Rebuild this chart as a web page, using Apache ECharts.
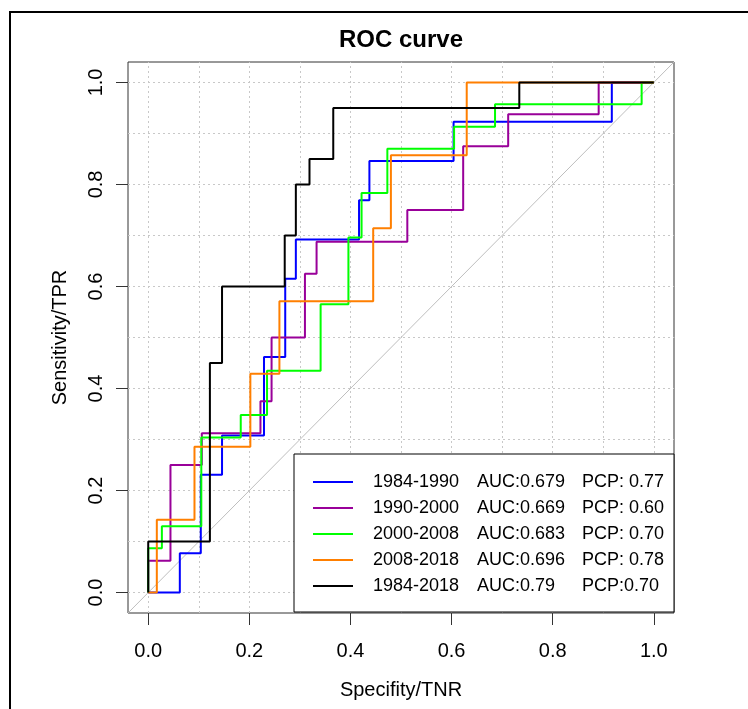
<!DOCTYPE html>
<html>
<head>
<meta charset="utf-8">
<title>ROC curve</title>
<script src="https://cdn.jsdelivr.net/npm/echarts@6/dist/echarts.min.js"></script>
<style>
  html, body { margin: 0; padding: 0; background: #fff; }
  #chart { width: 748px; height: 709px; }
</style>
</head>
<body>
<div id="chart"></div>
<script>
// legend text
const periods = ['1984-1990', '1990-2000', '2000-2008', '2008-2018', '1984-2018']
const aucLabels = ['AUC:0.679', 'AUC:0.669', 'AUC:0.683', 'AUC:0.696', 'AUC:0.79']
const pcpLabels = ['PCP: 0.77', 'PCP: 0.60', 'PCP: 0.70', 'PCP: 0.78', 'PCP:0.70']
const colors = ['#0000ff', '#990099', '#00ff00', '#ff7f00', '#000000']

// ROC step corners (x, y) per period
const fpr1 = [0, 0.0625, 0.104, 0.146, 0.229, 0.271, 0.292, 0.417, 0.4375, 0.604, 0.917, 1]
const tpr1 = [0, 0.077, 0.231, 0.308, 0.462, 0.615, 0.692, 0.769, 0.846, 0.923, 1, 1]

const fpr2 = [0, 0, 0.044, 0.106, 0.222, 0.244, 0.31, 0.333, 0.5125, 0.623, 0.712, 0.891, 1]
const tpr2 = [0, 0.0625, 0.25, 0.3125, 0.375, 0.5, 0.625, 0.6875, 0.75, 0.875, 0.9375, 1, 1]

const fpr3 = [0, 0, 0.027, 0.105, 0.183, 0.235, 0.341, 0.396, 0.422, 0.473, 0.605, 0.686, 0.976, 1]
const tpr3 = [0, 0.087, 0.13, 0.304, 0.348, 0.435, 0.565, 0.696, 0.783, 0.87, 0.913, 0.957, 1, 1]

const fpr4 = [0, 0.017, 0.0915, 0.202, 0.2595, 0.445, 0.48, 0.63, 1]
const tpr4 = [0, 0.143, 0.286, 0.429, 0.571, 0.714, 0.857, 1, 1]

const fpr5 = [0, 0, 0.122, 0.146, 0.27, 0.292, 0.319, 0.366, 0.734, 1]
const tpr5 = [0, 0.10, 0.45, 0.60, 0.70, 0.80, 0.85, 0.95, 1, 1]

const fprList = [fpr1, fpr2, fpr3, fpr4, fpr5]
const tprList = [tpr1, tpr2, tpr3, tpr4, tpr5]

// axis ticks and dotted grid
const tickVals = [0, 0.2, 0.4, 0.6, 0.8, 1.0]
const gridVals = [0, 0.1, 0.2, 0.3, 0.4, 0.5, 0.6, 0.7, 0.8, 0.9, 1.0]
const AXIS_MIN = -0.04
const AXIS_MAX = 1.04

const FONT = 'Liberation Sans, Arial, sans-serif'

const chart = echarts.init(document.getElementById('chart'))

const curveSeries = periods.map((p, i) => ({
  name: p,
  type: 'line',
  step: 'end',
  symbol: 'none',
  z: 3,
  silent: true,
  data: fprList[i].map((x, j) => [x, tprList[i][j]]),
  lineStyle: { color: colors[i], width: 2 },
  itemStyle: { color: colors[i] }
}))

const option = {
  backgroundColor: '#ffffff',
  animation: false,
  title: {
    text: 'ROC curve',
    left: 401,
    top: 28,
    padding: 0,
    textAlign: 'center',
    textStyle: { fontFamily: FONT, fontSize: 24, fontWeight: 'bold', color: '#000' }
  },
  grid: {
    left: 128,
    right: 74,
    top: 62,
    bottom: 96,
    show: true,
    borderColor: '#333',
    borderWidth: 1,
    backgroundColor: 'transparent'
  },
  xAxis: {
    type: 'value',
    min: AXIS_MIN,
    max: AXIS_MAX,
    position: 'bottom',
    name: 'Specifity/TNR',
    nameLocation: 'middle',
    nameGap: 67,
    nameTextStyle: { fontFamily: FONT, fontSize: 20, color: '#000' },
    axisLine: { show: false, onZero: false },
    axisTick: { show: true, inside: false, length: 12, customValues: tickVals, lineStyle: { color: '#333' } },
    axisLabel: {
      customValues: tickVals,
      formatter: v => v.toFixed(1),
      margin: 28,
      fontFamily: FONT,
      fontSize: 20,
      color: '#000'
    },
    splitLine: { show: false }
  },
  yAxis: {
    type: 'value',
    min: AXIS_MIN,
    max: AXIS_MAX,
    position: 'left',
    name: 'Sensitivity/TPR',
    nameLocation: 'middle',
    nameGap: 58,
    nameTextStyle: { fontFamily: FONT, fontSize: 20, color: '#000' },
    axisLine: { show: false, onZero: false },
    axisTick: { show: true, inside: false, length: 12, customValues: tickVals, lineStyle: { color: '#333' } },
    axisLabel: {
      customValues: tickVals,
      formatter: v => v.toFixed(1),
      rotate: 90,
      margin: 22,
      fontFamily: FONT,
      fontSize: 20,
      color: '#000'
    },
    splitLine: { show: false }
  },
  legend: {
    orient: 'vertical',
    left: 313,
    top: 472,
    padding: 0,
    itemGap: 6,
    itemWidth: 40,
    itemHeight: 2,
    z: 200,
    selectedMode: false,
    data: periods.map(p => ({ name: p, icon: 'rect' })),
    formatter: name => {
      const i = periods.indexOf(name)
      return `{s|}{a|${periods[i]}}{b|${aucLabels[i]}}{c|${pcpLabels[i]}}`
    },
    textStyle: {
      fontFamily: FONT,
      fontSize: 18,
      color: '#000',
      lineHeight: 20,
      rich: {
        s: { width: 15 },
        a: { width: 104, fontFamily: FONT, fontSize: 18, color: '#000' },
        b: { width: 105, fontFamily: FONT, fontSize: 18, color: '#000' },
        c: { fontFamily: FONT, fontSize: 18, color: '#000' }
      }
    }
  },
  graphic: [
    {
      // outer frame
      type: 'rect',
      z: 0,
      silent: true,
      shape: { x: 10, y: 12, width: 800, height: 800 },
      style: { fill: 'none', stroke: '#000', lineWidth: 2 }
    },
    {
      // legend box
      type: 'rect',
      z: 100,
      silent: true,
      shape: { x: 294, y: 454, width: 380, height: 158 },
      style: { fill: '#fff', stroke: '#000', lineWidth: 1 }
    }
  ],
  series: [
    {
      // dotted grid + diagonal reference
      name: 'ref',
      type: 'line',
      symbol: 'none',
      silent: true,
      z: 1,
      data: [[AXIS_MIN, AXIS_MIN], [AXIS_MAX, AXIS_MAX]],
      lineStyle: { color: '#bebebe', width: 1 },
      markLine: {
        silent: true,
        symbol: 'none',
        z: 1,
        label: { show: false },
        lineStyle: { color: '#c8c8c8', width: 1, type: [2, 3] },
        data: gridVals.map(v => ({ xAxis: v })).concat(gridVals.map(v => ({ yAxis: v })))
      }
    },
    ...curveSeries
  ]
}

chart.setOption(option)
</script>
</body>
</html>
